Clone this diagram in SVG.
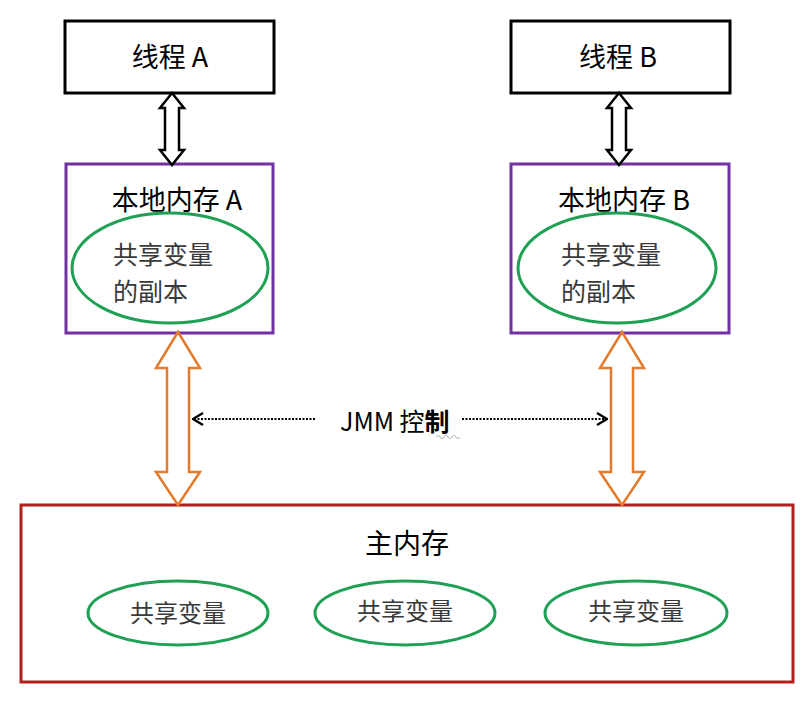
<svg xmlns="http://www.w3.org/2000/svg" width="810" height="707" viewBox="0 0 810 707">
<style>
.thread{fill:#fff;stroke:#000;stroke-width:3}
.local{fill:#fff;stroke:#7030A0;stroke-width:3}
.main{fill:#fff;stroke:#B0201E;stroke-width:3}
.var{fill:#fff;stroke:#1FA055;stroke-width:3}
.t{font-family:"Noto Sans CJK SC","Microsoft YaHei",sans-serif;fill:#000}
.v{font-family:"Noto Sans CJK SC","Microsoft YaHei",sans-serif;fill:#3a3a3a}
.barrow{fill:#fff;stroke:#000;stroke-width:2.5;stroke-linejoin:miter}
.oarrow{fill:#fff;stroke:#E47B2C;stroke-width:2.5;stroke-linejoin:miter}
.dot{fill:none;stroke:#000;stroke-width:2;stroke-dasharray:2 1.5}
</style>
<defs>
<marker id="chev" viewBox="0 0 12 14" refX="11" refY="7" markerWidth="12" markerHeight="14" markerUnits="userSpaceOnUse" orient="auto-start-reverse">
<path d="M1,1 L11,7 L1,13" fill="none" stroke="#000" stroke-width="2.2"/>
</marker>
</defs>
<g id="threadA">
<rect class="thread" x="65" y="21" width="209" height="72"/>
<text class="t" x="170" y="67" font-size="27" text-anchor="middle">线程 A</text>
</g>
<g id="threadB">
<rect class="thread" x="511" y="21" width="219" height="72"/>
<text class="t" x="618" y="67" font-size="27" text-anchor="middle">线程 B</text>
</g>
<g id="localA">
<rect class="local" x="66" y="164" width="207" height="169"/>
<text class="t" x="177" y="210" font-size="27" text-anchor="middle">本地内存 A</text>
<ellipse class="var" cx="170" cy="268" rx="98" ry="55"/>
<text class="v" x="113" y="264" font-size="25">共享变量</text>
<text class="v" x="113" y="301" font-size="25">的副本</text>
</g>
<g id="localB">
<rect class="local" x="511" y="164" width="218" height="169"/>
<text class="t" x="624" y="210" font-size="27" text-anchor="middle">本地内存 B</text>
<ellipse class="var" cx="617" cy="268" rx="99" ry="55"/>
<text class="v" x="561" y="264" font-size="25">共享变量</text>
<text class="v" x="561" y="301" font-size="25">的副本</text>
</g>
<g id="mainMemory">
<rect class="main" x="21" y="505" width="772" height="177"/>
<text class="t" x="407" y="554" font-size="28" text-anchor="middle">主内存</text>
<ellipse class="var" cx="178" cy="613" rx="90" ry="32"/>
<text class="v" x="178" y="622" font-size="24" text-anchor="middle">共享变量</text>
<ellipse class="var" cx="405" cy="613" rx="90" ry="32"/>
<text class="v" x="405" y="620" font-size="24" text-anchor="middle">共享变量</text>
<ellipse class="var" cx="636" cy="613" rx="91" ry="32"/>
<text class="v" x="636" y="620" font-size="24" text-anchor="middle">共享变量</text>
</g>
<g id="connectors">
<polygon class="barrow" points="172,93 184,108 179,108 179,150 184,150 172,165 160,150 165,150 165,108 160,108"/>
<polygon class="barrow" points="619,93 631,108 626,108 626,150 631,150 619,165 607,150 612,150 612,108 607,108"/>
<polygon class="oarrow" points="178,332 200,368 189,368 189,472 200,472 178,505 156,472 167,472 167,368 156,368"/>
<polygon class="oarrow" points="622,332 644,368 633,368 633,472 644,472 622,505 600,472 611,472 611,368 600,368"/>
<line class="dot" x1="315" y1="419" x2="193" y2="419" marker-end="url(#chev)"/>
<line class="dot" x1="462" y1="419" x2="607" y2="419" marker-end="url(#chev)"/>
</g>
<g id="jmmLabel">
<text class="t" x="340" y="431" font-size="25"><tspan>JMM 控</tspan><tspan font-weight="bold">制</tspan></text>
<path d="M436,437 q2,-3 4,0 t4,0 t4,0 t4,0 t4,0 t4,0" fill="none" stroke="#bbb" stroke-width="1.2"/>
</g>
</svg>
